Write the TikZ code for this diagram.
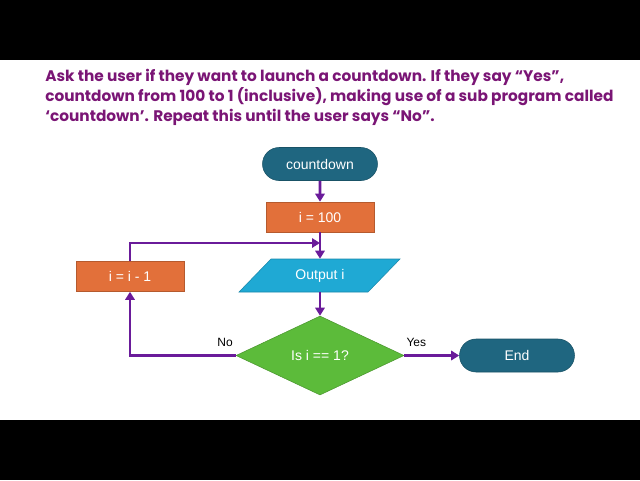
\documentclass[tikz,border=0pt]{standalone}
\usepackage{fontspec}
\setmainfont{Liberation Sans}
\newfontfamily\titlefont{Poppins}
\usetikzlibrary{shapes.geometric,shapes.misc,arrows.meta}
\definecolor{teal1}{HTML}{1F6680}
\definecolor{orng}{HTML}{E2703A}
\definecolor{cyan1}{HTML}{1FA9D4}
\definecolor{grn}{HTML}{5CBB3A}
\definecolor{purp}{HTML}{6A1B9A}
\definecolor{ttl}{HTML}{7A1575}
\begin{document}
\begin{tikzpicture}[x=0.75pt,y=-0.75pt,
  box/.style={draw=#1!80!black,fill=#1,text=white,font=\fontsize{10.5}{12}\selectfont,inner sep=0pt},
  term/.style={box=teal1,rounded rectangle,minimum width=115*0.75pt,minimum height=33*0.75pt},
  proc/.style={box=orng,rectangle,minimum width=108*0.75pt,minimum height=30*0.75pt},
  arr/.style={draw=purp,line width=2.2pt,-{Triangle[length=6pt,width=7pt]}},
  lbl/.style={font=\fontsize{9}{10}\selectfont}]
\useasboundingbox (0,0) rectangle (640,480);
\fill[black] (0,0) rectangle (640,60);
\fill[black] (0,420) rectangle (640,480);
\node[anchor=north west,align=left,text=ttl,font=\titlefont\bfseries\fontsize{11.5}{15}\selectfont,inner sep=0pt] (title) at (45,69)
{Ask the user if they want to launch a countdown. If they say “Yes”,\\
countdown from 100 to 1 (inclusive), making use of a sub program called\\
‘countdown’. Repeat this until the user says “No”.};
\node[term] (start) at (320,164) {countdown};
\node[proc] (init) at (320,217) {i = 100};
\fill[cyan1,draw=cyan1!80!black] (239,292) -- (271,259) -- (400,259) -- (368,292) -- cycle;
\node[text=white,font=\fontsize{10.5}{12}\selectfont,minimum height=33*0.75pt,inner sep=0pt] (out) at (320,275.5) {Output i};
\node[box=grn,diamond,minimum width=168*0.75pt,minimum height=79*0.75pt,aspect=2.1] (dec) at (320,355.5) {Is i == 1?};
\node[term] (end) at (517,355.5) {End};
\node[proc] (dec1) at (130,276.5) {i = i - 1};
\coordinate (join) at (320,243);
\draw[arr] (start) -- (init);
\draw[arr] (init) -- (out);
\draw[arr] (out) -- (dec);
\draw[arr] (dec.east) -- node[lbl,above,pos=0.22,yshift=2pt]{Yes} (end);
\draw[arr] (dec.west) -- node[lbl,above,pos=0.1,yshift=2pt]{No} (130,355.5) -- (dec1);
\draw[arr] (dec1) -- (130,243) -- (join);
\end{tikzpicture}
\end{document}
